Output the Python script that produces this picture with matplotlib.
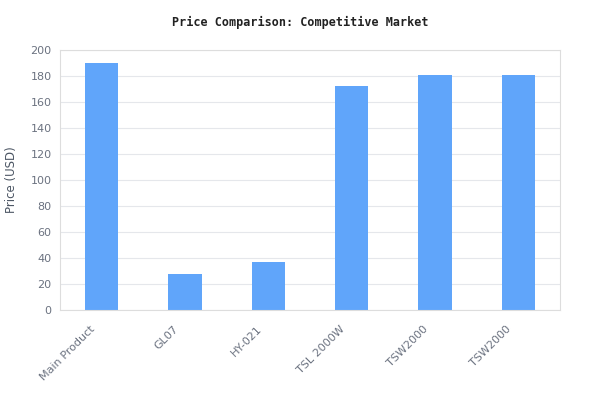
import matplotlib
matplotlib.use("Agg")
import matplotlib.pyplot as plt
import matplotlib.transforms as mtransforms
import numpy as np

products = ["Main Product", "GL07", "HY-021", "TSL 2000W", "TSW2000", "TSW2000"]
prices = [190, 28, 37, 172, 181, 181]

fig = plt.figure(figsize=(6, 4.2), dpi=100)
ax = fig.add_axes([0.1, 0.262, 0.8333, 0.619])

x = np.arange(len(products))
ax.bar(x, prices, width=0.4, color="#60A5FA", zorder=2)

ax.set_xlim(-0.5, len(products) - 0.5)
ax.set_ylim(0, 200)
ax.set_yticks(range(0, 201, 20))
ax.set_xticks(x)
ax.set_xticklabels(products, rotation=45, ha="right", rotation_mode="anchor")

ax.grid(axis="y", color="#E5E7EB", linewidth=0.8, zorder=0)
for s in ax.spines.values():
    s.set_color("#DDDDDD")
ax.tick_params(length=0, colors="#6B7280", labelsize=8, pad=6)

# nudge rotated labels a bit left/down like the original
offset = mtransforms.ScaledTranslation(-12 / 100, -6 / 100, fig.dpi_scale_trans)
for lbl in ax.get_xticklabels():
    lbl.set_transform(lbl.get_transform() + offset)

ax.set_ylabel("Price (USD)", fontsize=8.5, color="#4B5563")
ax.yaxis.set_label_coords(-0.085, 0.5)
fig.text(0.5, 1 - 22 / 420, "Price Comparison: Competitive Market", ha="center", va="center",
         fontsize=8.5, fontweight="bold", family="DejaVu Sans Mono", color="#222222")

fig.savefig("out.png", dpi=100)
